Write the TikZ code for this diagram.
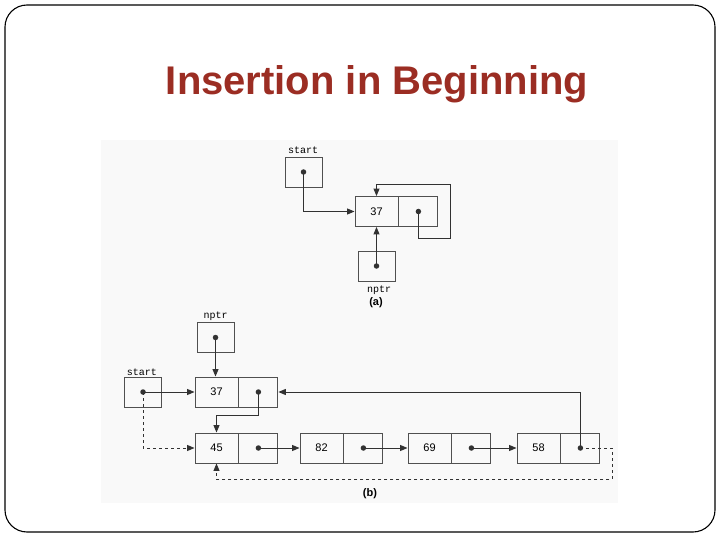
\documentclass[tikz,border=0pt]{standalone}
\usepackage{fontspec}
\setmainfont{Liberation Sans}
\setsansfont{Liberation Sans}
\setmonofont{Liberation Mono}
\usepackage{tikz}
\usetikzlibrary{arrows.meta}
\definecolor{titlered}{RGB}{155, 45, 35}
\definecolor{scanback}{RGB}{249, 249, 249}
\definecolor{inkgray}{RGB}{50, 50, 50}
\definecolor{boxgray}{RGB}{80, 80, 80}
\tikzset{
	datafield/.style={draw=boxgray, line width=0.9pt, minimum width=43pt, minimum height=30pt, inner sep=0pt, font=\sffamily\fontsize{11}{11}\selectfont},
	ptrfield/.style={draw=boxgray, line width=0.9pt, minimum width=39pt, minimum height=30pt, inner sep=0pt, anchor=west},
	varbox/.style={draw=boxgray, line width=0.9pt, minimum width=37pt, minimum height=30pt, inner sep=0pt},
	ptrdot/.style={circle, fill=inkgray, inner sep=0pt, minimum size=5.5pt},
	varname/.style={font=\ttfamily\fontsize{10}{10}\selectfont, inner sep=1pt},
	partlabel/.style={font=\sffamily\bfseries\fontsize{11}{11}\selectfont, inner sep=1pt},
	link/.style={draw=inkgray, line width=1pt, -{Triangle[length=7.5pt, width=6pt]}}
}

\begin{document}
\begin{tikzpicture}[x=1pt, y=-1pt]
		\useasboundingbox (0,0) rectangle (720,540);
		\draw[line width=1.1pt, rounded corners=22pt] (5,5) rectangle (715,532);
		\node[anchor=base, font=\sffamily\bfseries\fontsize{40}{48}\selectfont, text=titlered] (title) at (377,95) {Insertion in Beginning};
		\fill[scanback] (101,140) rectangle (618,503);

		\node[varbox] (starta) at (303.5,172) {};
		\node[varname] (startlabela) at (303,150) {start};
		\node[datafield] (d37a) at (376.5,211.5) {37};
		\node[ptrfield] (p37a) at (d37a.east) {};
		\node[varbox] (nptra) at (376.5,266) {};
		\node[varname] (nptrlabela) at (379,290) {nptr};
		\node[ptrdot] (qstarta) at (starta.center) {};
		\node[ptrdot] (q37a) at (p37a.center) {};
		\node[ptrdot] (qnptra) at (nptra.center) {};
		\node[partlabel] (parta) at (376,303) {(a)};
		\draw[link] (qstarta.center) |- (d37a.west);
		\draw[link] (q37a.center) -- ++(0,26.5) -| ++(32.5,-53) -| (d37a.north);
		\draw[link] (qnptra.center) -- (d37a.south);

		\node[varbox] (nptrb) at (215.5,337.5) {};
		\node[varname] (nptrlabelb) at (215.5,316) {nptr};
		\node[varbox] (startb) at (143,392) {};
		\node[varname] (startlabelb) at (142,372) {start};
		\node[datafield] (d37b) at (216.5,392) {37};
		\node[ptrfield] (p37b) at (d37b.east) {};
		\node[datafield] (d45) at (216.5,448) {45};
		\node[ptrfield] (p45) at (d45.east) {};
		\node[datafield] (d82) at (321.5,448) {82};
		\node[ptrfield] (p82) at (d82.east) {};
		\node[datafield] (d69) at (429.5,448) {69};
		\node[ptrfield] (p69) at (d69.east) {};
		\node[datafield] (d58) at (538.5,448) {58};
		\node[ptrfield] (p58) at (d58.east) {};
		\node[ptrdot] (qnptrb) at (nptrb.center) {};
		\node[ptrdot] (qstartb) at (startb.center) {};
		\node[ptrdot] (q37b) at (p37b.center) {};
		\node[ptrdot] (q45) at (p45.center) {};
		\node[ptrdot] (q82) at (p82.center) {};
		\node[ptrdot] (q69) at (p69.center) {};
		\node[ptrdot] (q58) at (p58.center) {};
		\node[partlabel] (partb) at (370,494) {(b)};
		\draw[link] (qnptrb.center) -- (qnptrb.center |- d37b.north);
		\draw[link] (qstartb.center) -- (d37b.west);
		\draw[link] (q37b.center) -- ++(0,23) -| (d45.north);
		\draw[link] (q45.center) -- (d82.west);
		\draw[link] (q82.center) -- (d69.west);
		\draw[link] (q69.center) -- (d58.west);
		\draw[link] (q58.center) |- (p37b.east);
		\draw[link, dashed] (q58.center) -| ++(32,31) -| (d45.south);
		\draw[link, dashed] (qstartb.center) |- (d45.west);
	\end{tikzpicture}
\end{document}
